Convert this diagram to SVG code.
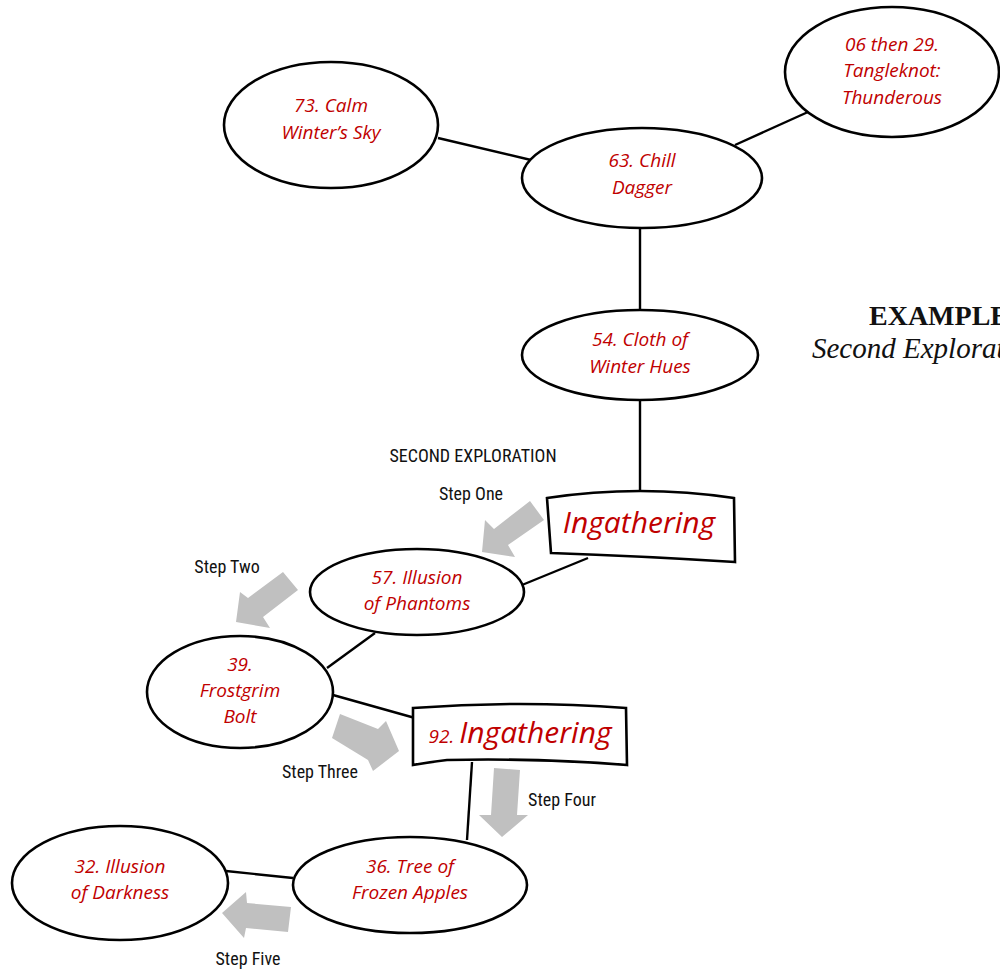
<svg xmlns="http://www.w3.org/2000/svg" width="1000" height="969" viewBox="0 0 1000 969">
<style>
.node{fill:#fff;stroke:#000;stroke-width:2.6}
.edge{stroke:#000;stroke-width:2.4;fill:none}
.hand{font-family:"Open Sans","Noto Sans",sans-serif;font-style:italic;font-size:19px;fill:#c00000;text-anchor:middle}
.big{font-size:30px}
.small{font-size:19px}
.lbl{font-family:"Liberation Sans Narrow","Roboto","Liberation Sans",sans-serif;font-stretch:condensed;font-size:18px;fill:#111;text-anchor:middle}
.garrow{fill:#c0c0c0}
.title{font-family:"Liberation Serif","DejaVu Serif",serif;fill:#111}
</style>
<rect width="1000" height="969" fill="#fff"/>
<g id="connectors">
<line class="edge" x1="438" y1="138" x2="531" y2="160"/>
<line class="edge" x1="735" y1="145" x2="808" y2="112"/>
<line class="edge" x1="640" y1="228" x2="640" y2="312"/>
<line class="edge" x1="640" y1="400" x2="640" y2="492"/>
<line class="edge" x1="588" y1="558" x2="522" y2="585"/>
<line class="edge" x1="375" y1="633" x2="327" y2="668"/>
<line class="edge" x1="333" y1="695" x2="415" y2="718"/>
<line class="edge" x1="472" y1="762" x2="467" y2="840"/>
<line class="edge" x1="293" y1="878" x2="226" y2="871"/>
</g>
<g id="step-arrows">
<polygon class="garrow" points="530,501 544,520 508,545 515,557 482,552 485,520 494,529"/>
<polygon class="garrow" points="283,572 298,590 263,617 270,628 236,622 240,592 248,598"/>
<polygon class="garrow" points="340,714 378,729 386,721 399,751 373,771 368,760 332,738"/>
<polygon class="garrow" points="494,768 520,770 517,815 528,815 502,837 479,815 491,815"/>
<polygon class="garrow" points="291,907 288,932 246,928 244,938 222,913 246,892 247,903"/>
</g>
<g id="n73">
<ellipse class="node" cx="331" cy="125" rx="107" ry="63"/>
<text class="hand" x="331" y="112">73. Calm</text>
<text class="hand" x="331" y="139">Winter’s Sky</text>
</g>
<g id="n63">
<ellipse class="node" cx="642" cy="178" rx="120" ry="50"/>
<text class="hand" x="642" y="167">63. Chill</text>
<text class="hand" x="642" y="194">Dagger</text>
</g>
<g id="n06">
<ellipse class="node" cx="892" cy="72" rx="107" ry="65"/>
<text class="hand" x="892" y="51">06 then 29.</text>
<text class="hand" x="892" y="77">Tangleknot:</text>
<text class="hand" x="892" y="104">Thunderous</text>
</g>
<g id="n54">
<ellipse class="node" cx="640" cy="355" rx="118" ry="45"/>
<text class="hand" x="640" y="346">54. Cloth of</text>
<text class="hand" x="640" y="373">Winter Hues</text>
</g>
<g id="ingathering1">
<path class="node" d="M547,498 Q640,484 734,498 L735,562 Q640,556 551,553 Z"/>
<text class="hand big" x="639" y="533">Ingathering</text>
</g>
<g id="n57">
<ellipse class="node" cx="417" cy="592" rx="107" ry="43"/>
<text class="hand" x="417" y="584">57. Illusion</text>
<text class="hand" x="417" y="610">of Phantoms</text>
</g>
<g id="n39">
<ellipse class="node" cx="240" cy="692" rx="93" ry="56"/>
<text class="hand" x="240" y="671">39.</text>
<text class="hand" x="240" y="697">Frostgrim</text>
<text class="hand" x="240" y="723">Bolt</text>
</g>
<g id="ingathering92">
<path class="node" d="M413,708 Q520,700 626,708 L627,765 Q540,758 447,760 Q430,762 413,765 Z"/>
<text class="hand" x="520" y="743"><tspan class="small">92. </tspan><tspan class="big">Ingathering</tspan></text>
</g>
<g id="n36">
<ellipse class="node" cx="410" cy="885" rx="117" ry="48"/>
<text class="hand" x="410" y="873">36. Tree of</text>
<text class="hand" x="410" y="899">Frozen Apples</text>
</g>
<g id="n32">
<ellipse class="node" cx="120" cy="883" rx="108" ry="57"/>
<text class="hand" x="120" y="873">32. Illusion</text>
<text class="hand" x="120" y="899">of Darkness</text>
</g>
<g id="labels">
<text class="lbl" x="473" y="462">SECOND EXPLORATION</text>
<text class="lbl" x="471" y="500">Step One</text>
<text class="lbl" x="227" y="573">Step Two</text>
<text class="lbl" x="320" y="778">Step Three</text>
<text class="lbl" x="562" y="806">Step Four</text>
<text class="lbl" x="248" y="965">Step Five</text>
</g>
<g id="title">
<text class="title" x="869" y="325" font-size="28" font-weight="bold">EXAMPLE</text>
<text class="title" x="812" y="358" font-size="29" font-style="italic">Second Exploration</text>
</g>
</svg>
